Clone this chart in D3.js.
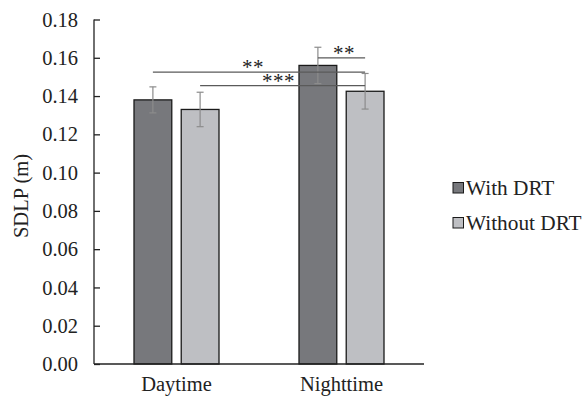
<!DOCTYPE html>
<html><head><meta charset="utf-8">
<script src="https://cdn.jsdelivr.net/npm/d3@7/dist/d3.min.js"></script>
<style>body{margin:0;background:#fff}svg{display:block}svg text{font-family:"Liberation Serif","Times New Roman",serif;fill:#222}</style>
</head><body><div id="c"></div>
<script>
const categories = ["Daytime", "Nighttime"];
const seriesNames = ["With DRT", "Without DRT"];
const withDRT = [0.138, 0.156];
const withoutDRT = [0.133, 0.1425];
const withDRTErr = [0.0068, 0.0095];
const withoutDRTErr = [0.009, 0.0093];
const yTicks = [0, 0.02, 0.04, 0.06, 0.08, 0.10, 0.12, 0.14, 0.16, 0.18];
const sigPairs = [
  {from: [0, 0], to: [1, 1], y: 0.1525, label: "**"},
  {from: [0, 1], to: [1, 1], y: 0.1455, label: "***"},
  {from: [1, 0], to: [1, 1], y: 0.160, label: "**"}
];

const W = 586, H = 401;
const serif = "'Liberation Serif', 'Times New Roman', serif";
const svg = d3.select("#c").append("svg").attr("width", W).attr("height", H);
const x0 = 94, x1 = 424, yTop = 19.5, yBot = 364;
const y = d3.scaleLinear().domain([0, 0.18]).range([yBot, yTop]);
const xb = d3.scaleBand().domain(categories).range([x0, x1]).paddingInner(0).paddingOuter(0);
const xs = d3.scaleBand().domain(seriesNames).range([xb.bandwidth()/2 - 42.5, xb.bandwidth()/2 + 42.5]).paddingInner(0.2).paddingOuter(0);
const colors = ["#77787c", "#bebfc3"];
const vals = [withDRT, withoutDRT], errs = [withDRTErr, withoutDRTErr];

const yAxis = d3.axisLeft(y).tickValues(yTicks).tickFormat(d3.format(".2f")).tickSize(-6).tickPadding(16);
const gy = svg.append("g").attr("transform", `translate(${x0},0)`).call(yAxis).attr("font-family", serif);
gy.select(".domain").attr("stroke", "#222").attr("stroke-width", 1.3).attr("d", `M0,${yTop}V${yBot}`);
gy.selectAll(".tick line").attr("stroke", "#222").attr("stroke-width", 1.3);
gy.selectAll(".tick text").attr("font-size", 20.5).attr("fill", "#222");

categories.forEach((c, ci) => {
  seriesNames.forEach((s, si) => {
    const bx = xb(c) + xs(s);
    svg.append("rect").attr("x", bx).attr("y", y(vals[si][ci])).attr("width", xs.bandwidth())
      .attr("height", yBot - y(vals[si][ci])).attr("fill", colors[si]).attr("stroke", "#1a1a1a").attr("stroke-width", 1.3);
  });
});

svg.append("line").attr("x1", x0).attr("x2", x1).attr("y1", yBot).attr("y2", yBot).attr("stroke", "#222").attr("stroke-width", 1.3);
categories.forEach(c => {
  svg.append("text").attr("x", xb(c) + xb.bandwidth()/2).attr("y", 391).attr("text-anchor", "middle").attr("font-size", 20.5).text(c);
});

const cx = (ci, si) => xb(categories[ci]) + xs(seriesNames[si]) + xs.bandwidth()/2;
categories.forEach((c, ci) => {
  seriesNames.forEach((s, si) => {
    const m = cx(ci, si), v = vals[si][ci], e = errs[si][ci];
    const g = svg.append("g").attr("stroke", "#8c8c8c").attr("stroke-width", 1.2);
    g.append("line").attr("x1", m).attr("x2", m).attr("y1", y(v + e)).attr("y2", y(v - e));
    g.append("line").attr("x1", m - 3.5).attr("x2", m + 3.5).attr("y1", y(v + e)).attr("y2", y(v + e));
    g.append("line").attr("x1", m - 3.5).attr("x2", m + 3.5).attr("y1", y(v - e)).attr("y2", y(v - e));
  });
});

const labelDx = [-6, -4, 2.5];
sigPairs.forEach((p, i) => {
  const xa = cx(p.from[0], p.from[1]), xe = cx(p.to[0], p.to[1]);
  svg.append("line").attr("x1", xa).attr("x2", xe).attr("y1", y(p.y)).attr("y2", y(p.y)).attr("stroke", "#5a5a5a").attr("stroke-width", 1.2);
  svg.append("text").attr("x", (xa + xe)/2 + labelDx[i]).attr("y", y(p.y) + 2).attr("text-anchor", "middle")
    .attr("font-size", 21).attr("letter-spacing", 0.5).attr("fill", "#333").text(p.label);
});

svg.append("text").attr("transform", `translate(28,196) rotate(-90)`).attr("text-anchor", "middle").attr("font-size", 20.5).text("SDLP (m)");

seriesNames.forEach((s, i) => {
  const ly = 188 + i * 35;
  svg.append("rect").attr("x", 453).attr("y", ly - 5.5).attr("width", 10.5).attr("height", 10.5).attr("fill", colors[i]).attr("stroke", "#1a1a1a").attr("stroke-width", 1);
  svg.append("text").attr("x", 466).attr("y", ly + 7).attr("font-size", 21.3).text(s);
});
</script></body></html>
